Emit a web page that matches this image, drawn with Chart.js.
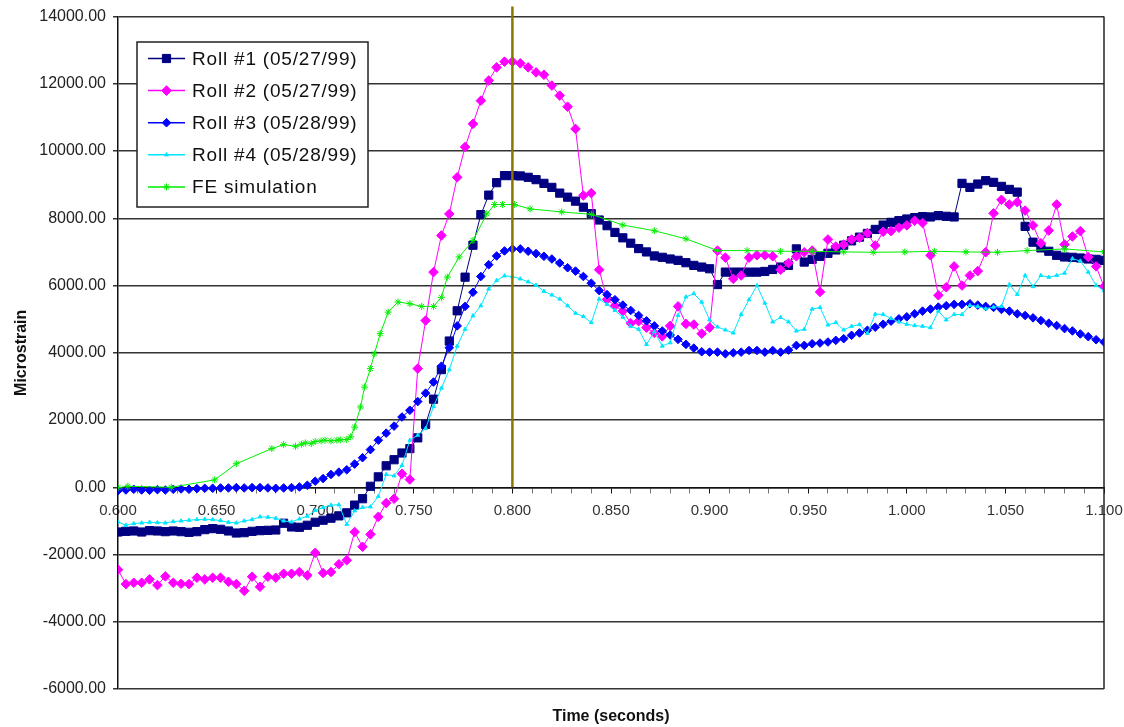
<!DOCTYPE html>
<html>
<head>
<meta charset="utf-8">
<title>Microstrain vs time</title>
<script src="https://cdn.jsdelivr.net/npm/chart.js@4.4.1/dist/chart.umd.min.js"></script>
<style>
  html, body { margin: 0; padding: 0; background: #fff; }
  #wrap { width: 1124px; height: 727px; position: relative; }
</style>
</head>
<body>
<div id="wrap"><canvas id="strainChart"></canvas></div>
<script>
// gauge samples, one every 0.004 s
const times = [
  0.600, 0.604, 0.608, 0.612, 0.616, 0.620, 0.624, 0.628, 0.632, 0.636,
  0.640, 0.644, 0.648, 0.652, 0.656, 0.660, 0.664, 0.668, 0.672, 0.676,
  0.680, 0.684, 0.688, 0.692, 0.696, 0.700, 0.704, 0.708, 0.712, 0.716,
  0.720, 0.724, 0.728, 0.732, 0.736, 0.740, 0.744, 0.748, 0.752, 0.756,
  0.760, 0.764, 0.768, 0.772, 0.776, 0.780, 0.784, 0.788, 0.792, 0.796,
  0.800, 0.804, 0.808, 0.812, 0.816, 0.820, 0.824, 0.828, 0.832, 0.836,
  0.840, 0.844, 0.848, 0.852, 0.856, 0.860, 0.864, 0.868, 0.872, 0.876,
  0.880, 0.884, 0.888, 0.892, 0.896, 0.900, 0.904, 0.908, 0.912, 0.916,
  0.920, 0.924, 0.928, 0.932, 0.936, 0.940, 0.944, 0.948, 0.952, 0.956,
  0.960, 0.964, 0.968, 0.972, 0.976, 0.980, 0.984, 0.988, 0.992, 0.996,
  1.000, 1.004, 1.008, 1.012, 1.016, 1.020, 1.024, 1.028, 1.032, 1.036,
  1.040, 1.044, 1.048, 1.052, 1.056, 1.060, 1.064, 1.068, 1.072, 1.076,
  1.080, 1.084, 1.088, 1.092, 1.096, 1.100
];

const roll1 = [
  -1330, -1310, -1300, -1330, -1290, -1300, -1320, -1300, -1320, -1340,
  -1320, -1260, -1230, -1250, -1300, -1360, -1350, -1310, -1290, -1280,
  -1270, -1070, -1180, -1190, -1130, -1040, -980, -920, -850, -760,
  -530, -340, 30, 310, 640, 820, 1020, 1150, 1470, 1870,
  2620, 3500, 4350, 5250, 6250, 7200, 8110, 8690, 9060, 9270,
  9270, 9260, 9220, 9150, 9040, 8920, 8750, 8630, 8510, 8330,
  8140, 7950, 7780, 7580, 7420, 7260, 7100, 7000, 6880, 6840,
  6790, 6750, 6680, 6600, 6550, 6500, 6030, 6400, 6400, 6400,
  6400, 6400, 6420, 6480, 6550, 6600, 7090, 6700, 6780, 6870,
  6960, 7060, 7200, 7330, 7440, 7550, 7670, 7800, 7880, 7930,
  7980, 8020, 8050, 8040, 8080, 8060, 8040, 9040, 8920, 9020,
  9120, 9070, 8950, 8860, 8780, 7760, 7290, 7120, 7020, 6900,
  6850, 6840, 6820, 6790, 6780, 6750
];

const roll2 = [
  -2450, -2880, -2840, -2840, -2740, -2910, -2650, -2840, -2870, -2880,
  -2690, -2740, -2690, -2690, -2810, -2880, -3080, -2660, -2960, -2660,
  -2690, -2570, -2570, -2520, -2620, -1950, -2550, -2520, -2290, -2170,
  -1330, -1770, -1400, -880, -470, -340, 400, 230, 3530, 4960,
  6400, 7490, 8130, 9220, 10120, 10810, 11500, 12100, 12490, 12660,
  12660, 12610, 12490, 12340, 12270, 11950, 11650, 11320, 10660, 8680,
  8750, 6470, 5590, 5400, 5240, 4880, 4940, 4750, 4590, 4490,
  4800, 5380, 4860, 4840, 4570, 4750, 7040, 6830, 6200, 6300,
  6830, 6900, 6900, 6870, 6470, 6670, 6870, 6990, 7040, 5810,
  7370, 7160, 7220, 7370, 7420, 7560, 7190, 7600, 7620, 7720,
  7790, 7930, 7860, 6900, 5710, 5950, 6570, 6000, 6300, 6430,
  6990, 8150, 8550, 8410, 8480, 8230, 7790, 7260, 7640, 8410,
  7220, 7460, 7620, 6850, 6570, 5970
];

const roll3 = [
  -100, -80, -60, -80, -90, -70, -80, -60, -50, -60,
  -40, -30, -30, -20, -20, -10, -20, -10, -10, -20,
  -30, -20, -10, 10, 60, 180, 260, 380, 450, 520,
  690, 880, 1120, 1400, 1610, 1820, 2090, 2290, 2550, 2800,
  3130, 3600, 4150, 4800, 5380, 5800, 6270, 6620, 6880, 7030,
  7090, 7090, 7020, 6950, 6870, 6790, 6670, 6530, 6430, 6270,
  6070, 5850, 5730, 5580, 5420, 5260, 5110, 4950, 4800, 4650,
  4530, 4400, 4250, 4140, 4030, 4020, 4020, 3970, 4000, 4020,
  4070, 4070, 4020, 4070, 4020, 4080, 4220, 4220, 4270, 4290,
  4320, 4370, 4420, 4520, 4590, 4670, 4760, 4850, 4940, 5010,
  5070, 5160, 5240, 5300, 5360, 5400, 5440, 5440, 5460, 5420,
  5380, 5350, 5290, 5240, 5160, 5110, 5040, 4960, 4880, 4810,
  4720, 4650, 4560, 4480, 4390, 4320
];

const roll4 = [
  -1030, -1130, -1080, -1060, -1040, -1050, -1060, -1020, -1000, -980,
  -960, -950, -960, -990, -1040, -1060, -1000, -960, -880, -890,
  -920, -1000, -1030, -940, -860, -690, -600, -530, -520, -1100,
  -700, -600, -580, -270, 380, 340, 650, 1400, 1550, 1750,
  2400, 2950, 3500, 4200, 4700, 5100, 5400, 5900, 6150, 6290,
  6270, 6200, 6110, 6010, 5830, 5720, 5600, 5400, 5180, 5080,
  4900, 5600, 5440, 5260, 5060, 4790, 4700, 4250, 4630, 4200,
  4300, 5110, 5660, 5760, 5510, 4980, 4770, 4680, 4590, 5140,
  5580, 6000, 5480, 4920, 5050, 4920, 4650, 4700, 5300, 5350,
  4830, 4900, 4680, 4790, 4840, 4580, 5150, 5140, 5020, 4920,
  4850, 4810, 4790, 4750, 5240, 4980, 5140, 5140, 5410, 5380,
  5310, 5360, 5380, 6030, 5740, 6300, 5970, 6300, 6250, 6300,
  6370, 6800, 6730, 6400, 6000, 5850
];

// FE model output uses its own (uneven) time steps
const feTimes = [
  0.600, 0.605, 0.627, 0.649, 0.660, 0.678, 0.684, 0.690, 0.693, 0.695,
  0.698, 0.700, 0.703, 0.705, 0.708, 0.711, 0.713, 0.716, 0.718, 0.720,
  0.723, 0.725, 0.728, 0.730, 0.733, 0.737, 0.742, 0.748, 0.754, 0.760,
  0.764, 0.767, 0.773, 0.780, 0.787, 0.791, 0.795, 0.801, 0.809, 0.825,
  0.840, 0.856, 0.872, 0.888, 0.904, 0.919, 0.936, 0.952, 0.968, 0.983,
  0.999, 1.014, 1.030, 1.046, 1.061, 1.080, 1.100
];
const feStrain = [
  -10, 30, 0, 220, 700, 1150, 1270, 1220, 1280, 1320,
  1300, 1360, 1380, 1400, 1380, 1400, 1410, 1420, 1500, 1790,
  2390, 2980, 3530, 3970, 4570, 5210, 5510, 5460, 5380, 5380,
  5650, 6250, 6850, 7340, 8130, 8410, 8410, 8410, 8280, 8190,
  8120, 7800, 7630, 7390, 7040, 7040, 7020, 7020, 7000, 6990,
  7000, 7020, 7000, 6990, 7040, 7090, 7000
];

// vertical marker at t = 0.800 s
const markerTime = 0.800;
const markerSpan = [0, 14300];

const FONT = '"Liberation Sans", Arial, sans-serif';

function toPoints(xs, ys) {
  return xs.map((t, i) => ({ x: t, y: ys[i] }));
}

function series(label, xs, ys, color, style, radius, order) {
  return {
    label: label,
    data: toPoints(xs, ys),
    xAxisID: 'x',
    borderColor: color,
    backgroundColor: color,
    pointBackgroundColor: color,
    pointBorderColor: color,
    borderWidth: 1,
    pointStyle: style,
    pointRadius: radius,
    pointBorderWidth: 1,
    tension: 0,
    order: order
  };
}

const datasets = [
  series('Roll #1 (05/27/99)', times, roll1, '#000080', 'rect', 5.8, 5),
  series('Roll #2 (05/27/99)', times, roll2, '#ff00ff', 'rectRot', 4.8, 4),
  series('Roll #3 (05/28/99)', times, roll3, '#0000ff', 'rectRot', 4.3, 3),
  series('Roll #4 (05/28/99)', times, roll4, '#00e5ff', 'triangle', 2.2, 2),
  series('FE simulation', feTimes, feStrain, '#00ee00', 'star', 3.5, 1),
  {
    label: '',
    isMarker: true,
    data: [{ x: markerTime, y: markerSpan[0] }, { x: markerTime, y: markerSpan[1] }],
    xAxisID: 'x',
    borderColor: '#8b7500',
    borderWidth: 2.5,
    pointRadius: 0,
    clip: false,
    order: 0
  }
];

// boxed legend inside the plot + right frame line
const legendBox = {
  id: 'legendBox',
  afterDatasetsDraw(chart) {
    const ctx = chart.ctx;
    const a = chart.chartArea;
    ctx.save();
    ctx.strokeStyle = '#222';
    ctx.lineWidth = 1.5;
    ctx.beginPath();
    ctx.moveTo(a.right, a.top);
    ctx.lineTo(a.right, a.bottom);
    ctx.stroke();

    const bx = 137, by = 42, bw = 231, bh = 165;
    ctx.fillStyle = '#fff';
    ctx.fillRect(bx, by, bw, bh);
    ctx.strokeStyle = '#222';
    ctx.lineWidth = 1.5;
    ctx.strokeRect(bx, by, bw, bh);

    ctx.font = '19px ' + FONT;
    ctx.letterSpacing = '0.8px';
    ctx.textBaseline = 'middle';
    ctx.textAlign = 'left';
    chart.data.datasets.filter(d => !d.isMarker).forEach((d, k) => {
      const y = 58.5 + k * 32.1;
      ctx.strokeStyle = d.borderColor;
      ctx.lineWidth = 1.5;
      ctx.beginPath();
      ctx.moveTo(148, y);
      ctx.lineTo(185, y);
      ctx.stroke();
      ctx.fillStyle = d.pointBackgroundColor;
      ctx.strokeStyle = d.pointBorderColor;
      ctx.lineWidth = 1;
      Chart.helpers.drawPoint(ctx, {
        pointStyle: d.pointStyle, radius: d.pointRadius, rotation: 0, borderWidth: 1
      }, 166.5, y);
      ctx.fillStyle = '#111';
      ctx.fillText(d.label, 192, y + 1);
    });
    ctx.restore();
  }
};

new Chart(document.getElementById('strainChart'), {
  type: 'line',
  data: { datasets: datasets },
  options: {
    responsive: true,
    maintainAspectRatio: false,
    animation: false,
    layout: { padding: { left: 0, top: 16, right: 20, bottom: 0 } },
    plugins: {
      legend: { display: false },
      tooltip: { enabled: false }
    },
    scales: {
      x: {
        type: 'linear',
        min: 0.6,
        max: 1.1,
        position: { y: 0 },
        ticks: {
          stepSize: 0.01,
          autoSkip: false,
          maxRotation: 0,
          padding: 10,
          color: '#333',
          font: { family: FONT, size: 15 },
          callback: (v, i) => (i % 5 === 0 ? v.toFixed(3) : '')
        },
        grid: {
          drawOnChartArea: false,
          drawTicks: true,
          tickLength: 5,
          tickWidth: 1,
          tickColor: c => (c.index % 5 === 0 ? '#111' : '#777')
        },
        border: { display: true, color: '#111', width: 1.5 },
        afterFit(s) { s.paddingLeft = 0; s.paddingRight = 0; }
      },
      x2: {
        type: 'linear',
        position: 'bottom',
        min: 0.6,
        max: 1.1,
        ticks: { display: false },
        grid: { display: false },
        border: { display: false },
        title: {
          display: true,
          text: 'Time (seconds)',
          color: '#111',
          font: { family: FONT, size: 16, weight: 'bold' },
          padding: { top: 0, bottom: 1 }
        },
        afterFit(s) { s.height = 38; s.paddingLeft = 0; s.paddingRight = 0; }
      },
      y: {
        type: 'linear',
        min: -6000,
        max: 14000,
        ticks: {
          stepSize: 2000,
          padding: 7,
          color: '#222',
          font: { family: FONT, size: 16 },
          callback: v => v.toFixed(2)
        },
        grid: { color: '#333', lineWidth: 1.5, tickLength: 5, drawTicks: true },
        border: { color: '#111', width: 1.5 },
        title: {
          display: true,
          text: 'Microstrain',
          color: '#111',
          font: { family: FONT, size: 16, weight: 'bold' },
          padding: { top: 12, bottom: 0 }
        },
        afterFit(s) { s.width = 118; }
      }
    }
  },
  plugins: [legendBox]
});
</script>
</body>
</html>
